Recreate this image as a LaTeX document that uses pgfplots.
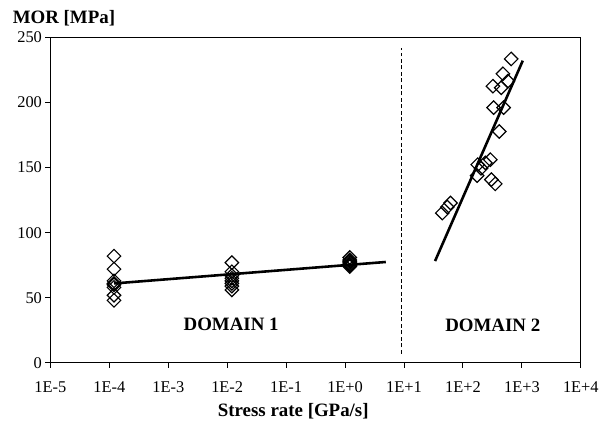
\documentclass[border=0pt]{standalone}
\usepackage{fontspec}
\setmainfont{Liberation Serif}
\usepackage{pgfplots}
\pgfplotsset{compat=1.18}

% Modulus of rupture measured at various stress rates
\pgfplotstableread{
x       y
1.2e-4  82
1.2e-4  72
1.2e-4  63
1.2e-4  61
1.2e-4  60
1.2e-4  58
1.2e-4  52
1.2e-4  48
1.2e-2  77
1.2e-2  70
1.2e-2  67
1.2e-2  65
1.2e-2  63
1.2e-2  61
1.2e-2  59
1.2e-2  56
1.2     81
1.2     79
1.2     78
1.2     77
1.2     76
1.2     75
1.2     74
}\domainone

\pgfplotstableread{
x       y
658     233.5
476     222.1
578     216.4
323     212.6
446     211.4
332     196.1
490     196.1
413     177.8
291     156.1
240     153.6
178     152.3
203     149.5
174     143.9
303     140.8
353     137.5
61.5    122.8
54.2    119.7
44.6    115.1
}\domaintwo

\begin{document}
\begin{tikzpicture}
\begin{axis}[
  scale only axis,
  width=533.6pt, height=327.3pt,
  xmode=log,
  xmin=1e-5, xmax=1e4,
  ymin=0, ymax=250,
  xtick={1e-5,1e-4,1e-3,1e-2,1e-1,1e0,1e1,1e2,1e3,1e4},
  xticklabels={1E-5,1E-4,1E-3,1E-2,1E-1,1E+0,1E+1,1E+2,1E+3,1E+4},
  ytick={0,50,100,150,200,250},
  xminorticks=false,
  tick align=outside,
  xtick pos=bottom, ytick pos=left,
  major tick length=5pt,
  every tick/.style={black, line width=1pt},
  axis line style={line width=1.2pt},
  /pgf/number format/assume math mode=true,
  tick label style={font=\fontsize{16.5}{19}\selectfont},
  xticklabel style={yshift=-10pt},
  clip=false,
]
% open diamonds
\addplot[only marks, mark=square, mark size=4.8pt,
  mark options={rotate=45, line width=1.2pt, black}] table[x=x,y=y] {\domainone};
\addplot[only marks, mark=square, mark size=4.8pt,
  mark options={rotate=45, line width=1.2pt, black}] table[x=x,y=y] {\domaintwo};
% fitted trends
\addplot[black, line width=2.6pt, no marks] coordinates {(1.2e-4,61) (4.9,77.5)};
\addplot[black, line width=2.6pt, no marks] coordinates {(33.6,78.2) (1035,232.2)};
% boundary between the two domains
\addplot[black, line width=1pt, dash pattern=on 4pt off 2.5pt, no marks]
  coordinates {(9.1,7) (9.1,242)};
\node[anchor=base, font=\bfseries\fontsize{19}{22}\selectfont] at (axis cs:0.01164,24.5) {DOMAIN 1};
\node[anchor=base, font=\bfseries\fontsize{19}{22}\selectfont] at (axis cs:320.6,24.2) {DOMAIN 2};
\end{axis}
\node[anchor=base west, inner sep=0pt, font=\bfseries\fontsize{19}{22}\selectfont] at (-38pt,341pt) {MOR [MPa]};
\node[anchor=base, inner sep=0pt, font=\bfseries\fontsize{19}{22}\selectfont] at (244.3pt,-54.3pt) {Stress rate [GPa/s]};
\path (-50.7pt,-63pt) rectangle (551.3pt,365pt);
\end{tikzpicture}
\end{document}
